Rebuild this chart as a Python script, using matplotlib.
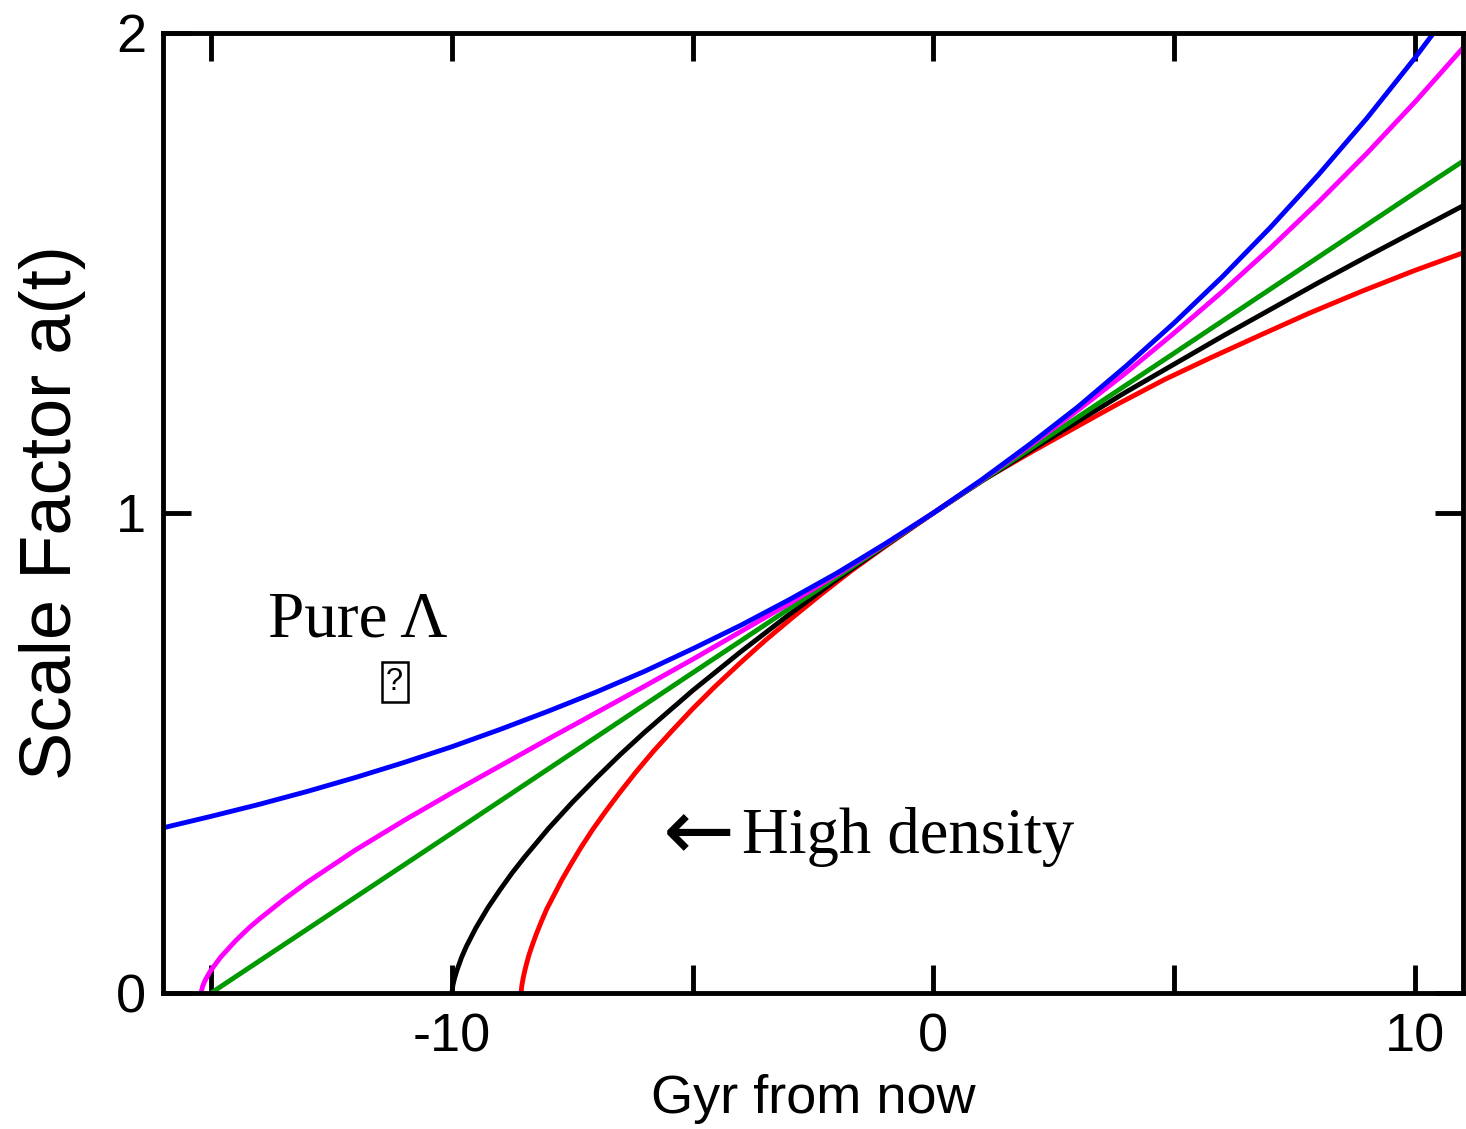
import matplotlib
matplotlib.use("Agg")
import matplotlib.pyplot as plt
from matplotlib.ticker import FixedLocator

# Scale factor a(t) against time from now (Gyr), one curve per model
t_lambda = [-16, -15, -14, -13, -12, -11, -10, -9, -8, -7, -6, -5, -4, -3, -2, -1,
            0, 1, 2, 3, 4, 5, 6, 7, 8, 9, 10, 11]
a_lambda = [0.344, 0.368, 0.393, 0.420, 0.449, 0.480, 0.513, 0.549, 0.587, 0.627,
            0.670, 0.717, 0.766, 0.819, 0.875, 0.936, 1.000, 1.069, 1.143, 1.221,
            1.306, 1.396, 1.492, 1.595, 1.705, 1.822, 1.948, 2.082]

t_flat = [-15.21, -15.18, -15.14, -15.1, -15.05, -15, -14.8, -14.5, -14.2, -14, -13.5,
          -13, -12, -11, -10, -9, -8, -7, -6, -5, -4,
          -3, -2, -1, 0, 1, 2, 3, 4, 5, 6, 7, 8, 9, 10, 11]
a_flat = [0.0, 0.013, 0.023, 0.031, 0.040, 0.048, 0.075, 0.108, 0.137, 0.154, 0.194,
          0.231, 0.298, 0.359, 0.417, 0.473, 0.529,
          0.584, 0.639, 0.695, 0.753, 0.811, 0.872, 0.935, 1.000, 1.068, 1.140,
          1.214, 1.292, 1.375, 1.461, 1.552, 1.648, 1.749, 1.856, 1.969]

t_empty = [-15, -10, -5, 0, 5, 10, 11]
a_empty = [0.0, 0.333, 0.667, 1.000, 1.333, 1.667, 1.733]

t_eds = [-10, -9.98, -9.95, -9.9, -9.8, -9.7, -9.5, -9.25, -9, -8.75, -8.5, -8, -7.5,
         -7, -6.5, -6, -5, -4, -3, -2, -1, 0, 1, 2, 3, 4, 5, 6, 7, 8, 9, 10, 11]
a_eds = [0.0, 0.016, 0.029, 0.046, 0.074, 0.097, 0.136, 0.178, 0.215, 0.250, 0.282,
         0.342, 0.397, 0.448, 0.497, 0.543, 0.630, 0.711, 0.788, 0.862, 0.932, 1.000,
         1.066, 1.129, 1.191, 1.252, 1.310, 1.368, 1.424, 1.480, 1.534, 1.587, 1.640]

t_dense = [-8.56, -8.555, -8.54, -8.52, -8.49, -8.45, -8.40, -8.33, -8.25, -8.15, -8.03,
           -7.88, -7.72, -7.53, -7.32, -7.08, -6.81, -6.51, -6.18, -5.82, -5.43,
           -5.00, -4.54, -4.04, -3.51, -2.94, -2.34, -1.70, -1.02, 0.0, 1.0, 2.07,
           3.0, 3.83, 4.8, 5.75, 6.8, 7.80, 8.9, 9.99, 11.14]
a_dense = [0.0, 0.010, 0.020, 0.031, 0.045, 0.061, 0.079, 0.100, 0.122, 0.147, 0.175,
           0.204, 0.235, 0.268, 0.303, 0.340, 0.378, 0.418, 0.460, 0.503, 0.546,
           0.592, 0.638, 0.685, 0.733, 0.781, 0.830, 0.880, 0.929, 1.000, 1.067,
           1.129, 1.181, 1.227, 1.278, 1.323, 1.371, 1.416, 1.462, 1.505, 1.547]

x_ticks_major = [-10, 0, 10]
x_ticks_minor = [-15, -5, 5]
y_ticks = [0, 1, 2]

fig = plt.figure(figsize=(14.66, 11.29), dpi=100)
ax = fig.add_axes([0.1112, 0.1205, 0.8868, 0.8503])

lw = 3.5
ax.plot(t_dense, a_dense, color="#ff0000", lw=lw, solid_capstyle="butt")
ax.plot(t_eds, a_eds, color="black", lw=lw, solid_capstyle="butt")
ax.plot(t_empty, a_empty, color="#009a00", lw=lw, solid_capstyle="butt")
ax.plot(t_flat, a_flat, color="#ff00ff", lw=lw, solid_capstyle="butt")
ax.plot(t_lambda, a_lambda, color="#0000ff", lw=lw, solid_capstyle="butt")

ax.set_xlim(-16, 11)
ax.set_ylim(0, 2)

for side in ax.spines.values():
    side.set_linewidth(3.5)

ax.xaxis.set_major_locator(FixedLocator(x_ticks_major))
ax.xaxis.set_minor_locator(FixedLocator(x_ticks_minor))
ax.yaxis.set_major_locator(FixedLocator(y_ticks))
ax.set_xticklabels([str(v) for v in x_ticks_major])
ax.set_yticklabels([str(v) for v in y_ticks])

tick_font = "Liberation Sans"
ax.tick_params(axis="both", which="both", direction="in", top=True, right=True,
               length=20, width=3.5)
ax.tick_params(axis="x", which="major", pad=14, labelsize=39)
ax.tick_params(axis="y", which="major", pad=12, labelsize=39)
for lab in ax.get_xticklabels() + ax.get_yticklabels():
    lab.set_fontfamily(tick_font)

ax.set_xlabel("Gyr from now", fontsize=39, family=tick_font, labelpad=8)
ax.set_ylabel("Scale Factor a(t)", fontsize=52, family=tick_font, labelpad=22)

serif = ["Liberation Serif", "DejaVu Serif"]
ax.text(-13.81, 0.742, "Pure \u039b", fontsize=47, family=serif, va="baseline")
ax.text(-11.19, 0.648, "?", fontsize=22, family=tick_font, ha="center", va="center",
        bbox=dict(boxstyle="square,pad=0.15", fc="white", ec="black", lw=1.8))
ax.text(-5.62, 0.327, "\u2190", fontsize=62, family="DejaVu Sans",
        ha="left", va="center")
ax.text(-3.97, 0.292, "High density", fontsize=46.5, family=serif, va="baseline")

fig.savefig("out.png", dpi=100, facecolor="white")
